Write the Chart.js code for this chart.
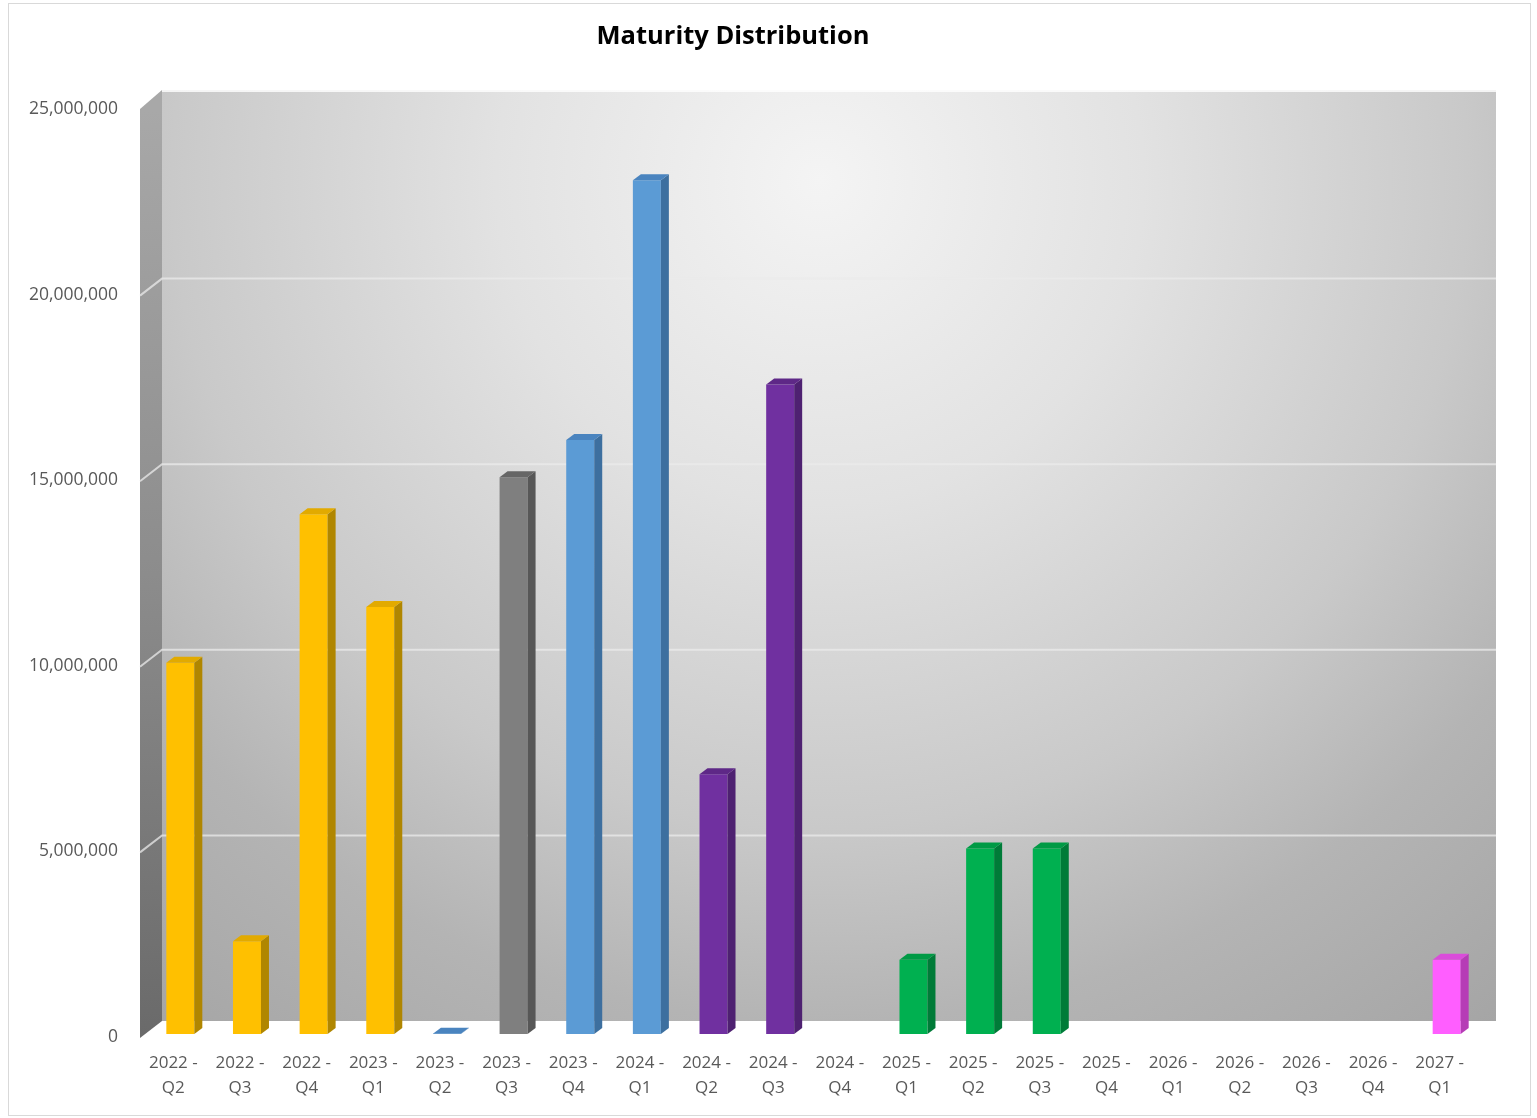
<!DOCTYPE html>
<html>
<head>
<meta charset="utf-8">
<title>Maturity Distribution</title>
<script src="https://cdn.jsdelivr.net/npm/chart.js@4.4.0/dist/chart.umd.min.js"></script>
<style>
  html, body { margin: 0; padding: 0; background: #fff; }
  #wrap { position: relative; width: 1537px; height: 1118px; }
</style>
</head>
<body>
<div id="wrap"><canvas id="maturityChart"></canvas></div>
<script>
// --- data ---
const categories = [
    '2022 - Q2', '2022 - Q3', '2022 - Q4', '2023 - Q1', '2023 - Q2',
    '2023 - Q3', '2023 - Q4', '2024 - Q1', '2024 - Q2', '2024 - Q3',
    '2024 - Q4', '2025 - Q1', '2025 - Q2', '2025 - Q3', '2025 - Q4',
    '2026 - Q1', '2026 - Q2', '2026 - Q3', '2026 - Q4', '2027 - Q1'
];
const amounts = [
    10000000, 2500000, 14000000, 11500000, 10000,
    15000000, 16000000, 23000000, 7000000, 17500000,
    0, 2000000, 5000000, 5000000, 0,
    0, 0, 0, 0, 2000000
];
const yTicks = [0, 5000000, 10000000, 15000000, 20000000, 25000000];

// colour group for each bar
const barGroups = [
    'yellow', 'yellow', 'yellow', 'yellow', 'blue',
    'gray', 'blue', 'blue', 'purple', 'purple',
    'purple', 'green', 'green', 'green', 'green',
    'green', 'green', 'green', 'green', 'pink'
];

// front / top / side colours
const palette = {
    yellow: ['#FFC000', '#E2AA00', '#B08600'],
    blue:   ['#5B9BD5', '#4A84BF', '#3D6F9F'],
    gray:   ['#7F7F7F', '#666666', '#575757'],
    purple: ['#7030A0', '#5E2887', '#4E2171'],
    green:  ['#00B050', '#009A45', '#007B38'],
    pink:   ['#FF5EFF', '#DA4CDA', '#B63CB6']
};

const labels = categories.map(c => {
    const [yr, q] = c.split(' - ');
    return [yr + ' -', q];
});

const FONT = '"Open Sans", "Liberation Sans", sans-serif';
const DX = 22, DY = 17;      // depth of the walls
const BX = 8, BY = 6;        // depth of the bars

// background: frame, title, side wall, back wall and gridlines
const wallsPlugin = {
    id: 'walls',
    beforeDraw(chart) {
        const ctx = chart.ctx;
        ctx.save();
        ctx.fillStyle = '#fff';
        ctx.fillRect(0, 0, chart.width, chart.height);
        ctx.strokeStyle = '#d9d9d9';
        ctx.lineWidth = 1;
        ctx.strokeRect(8.5, 3.5, 1522, 1112);

        ctx.fillStyle = '#000';
        ctx.font = 'bold 25.5px ' + FONT;
        ctx.textAlign = 'center';
        ctx.textBaseline = 'middle';
        ctx.fillText('Maturity Distribution', 733, 37);
        ctx.restore();
    },
    beforeDatasetsDraw(chart) {
        const { ctx, chartArea: a, scales: { y } } = chart;
        const top = yTicks[yTicks.length - 1];
        const fl = a.left - 7, fr = a.right - 6;
        const bl = fl + DX, br = fr + DX;
        const fy = v => y.getPixelForValue(v) + 4;
        const by = v => y.getPixelForValue(v) + 4 - DY;
        const wallTop = by(top) - 3;

        ctx.save();
        // back wall
        const g = ctx.createRadialGradient(820, 180, 0, 820, 180, 1080);
        g.addColorStop(0, '#f4f4f4');
        g.addColorStop(0.3, '#e2e2e2');
        g.addColorStop(0.6, '#c9c9c9');
        g.addColorStop(0.78, '#b4b4b4');
        g.addColorStop(1, '#a5a5a5');
        ctx.fillStyle = g;
        ctx.fillRect(bl, wallTop, br - bl, by(0) - wallTop);
        ctx.strokeStyle = 'rgba(255,255,255,0.8)';
        ctx.lineWidth = 2;
        ctx.beginPath();
        ctx.moveTo(bl, wallTop + 1);
        ctx.lineTo(br, wallTop + 1);
        ctx.stroke();

        // side wall
        const sg = ctx.createLinearGradient(0, fy(top), 0, fy(0));
        sg.addColorStop(0, '#a8a8a8');
        sg.addColorStop(0.5, '#8c8c8c');
        sg.addColorStop(1, '#6a6a6a');
        ctx.fillStyle = sg;
        ctx.beginPath();
        ctx.moveTo(fl, fy(top) - 1);
        ctx.lineTo(bl, wallTop);
        ctx.lineTo(bl, by(0));
        ctx.lineTo(fl, fy(0));
        ctx.closePath();
        ctx.fill();

        // gridlines
        ctx.lineWidth = 2;
        yTicks.forEach(v => {
            if (v === 0 || v === top) return;
            ctx.strokeStyle = 'rgba(235,235,235,0.75)';
            ctx.beginPath();
            ctx.moveTo(fl, fy(v));
            ctx.lineTo(bl, by(v));
            ctx.lineTo(br, by(v));
            ctx.stroke();
        });
        ctx.restore();
    },
    afterDatasetsDraw(chart) {
        const ctx = chart.ctx;
        const meta = chart.getDatasetMeta(0);
        ctx.save();
        meta.data.forEach((bar, i) => {
            if (!amounts[i]) return;
            const { x, y, base, width } = bar.getProps(['x', 'y', 'base', 'width'], true);
            const l = x - width / 2, r = x + width / 2;
            const cols = palette[barGroups[i]];
            // side face
            ctx.fillStyle = cols[2];
            ctx.beginPath();
            ctx.moveTo(r, y);
            ctx.lineTo(r + BX, y - BY);
            ctx.lineTo(r + BX, base - BY);
            ctx.lineTo(r, base);
            ctx.closePath();
            ctx.fill();
            // top face
            ctx.fillStyle = cols[1];
            ctx.beginPath();
            ctx.moveTo(l, y);
            ctx.lineTo(l + BX, y - BY);
            ctx.lineTo(r + BX, y - BY);
            ctx.lineTo(r, y);
            ctx.closePath();
            ctx.fill();
        });
        ctx.restore();
    }
};

new Chart(document.getElementById('maturityChart'), {
    type: 'bar',
    data: {
        labels: labels,
        datasets: [{
            label: 'Maturity',
            data: amounts,
            backgroundColor: barGroups.map(g => palette[g][0]),
            borderWidth: 0,
            barPercentage: 0.42,
            categoryPercentage: 1
        }]
    },
    plugins: [wallsPlugin],
    options: {
        responsive: true,
        maintainAspectRatio: false,
        devicePixelRatio: 1,
        animation: false,
        layout: { padding: { left: 0, right: 57, top: 106, bottom: 0 } },
        plugins: {
            legend: { display: false },
            title: { display: false },
            tooltip: { enabled: false }
        },
        scales: {
            x: {
                grid: { display: false, drawTicks: false },
                border: { display: false },
                afterFit: s => { s.height = 84; },
                ticks: {
                    autoSkip: false,
                    maxRotation: 0,
                    minRotation: 0,
                    padding: 17,
                    labelOffset: -7,
                    color: '#595959',
                    font: { family: FONT, size: 17, lineHeight: 1.45 }
                }
            },
            y: {
                min: 0,
                max: 25000000,
                grid: { display: false, drawTicks: false },
                border: { display: false },
                afterFit: s => { s.width = 147; },
                afterBuildTicks: s => { s.ticks = yTicks.map(v => ({ value: v })); },
                ticks: {
                    padding: 29,
                    labelOffset: 3,
                    color: '#595959',
                    font: { family: FONT, size: 17.5 },
                    callback: v => v.toLocaleString('en-US')
                }
            }
        }
    }
});
</script>
</body>
</html>
